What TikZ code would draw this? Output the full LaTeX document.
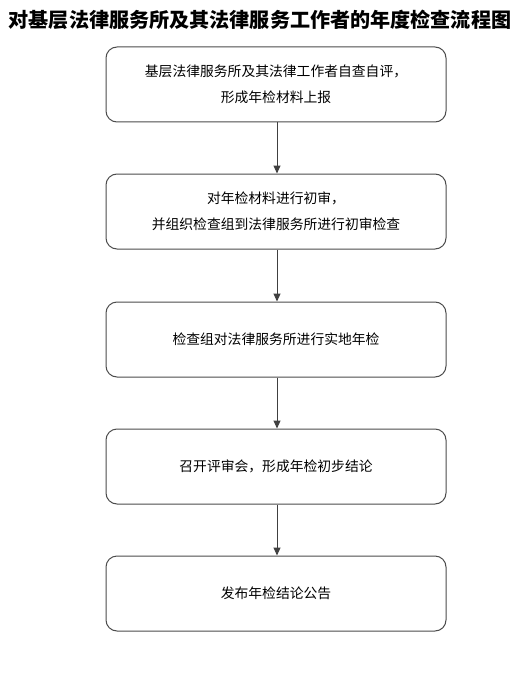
\documentclass[tikz,border=0pt]{standalone}
\usepackage{fontspec}
\setmainfont{Noto Sans CJK SC}
\usetikzlibrary{arrows.meta}
\begin{document}
\begin{tikzpicture}[x=1pt,y=-1pt,
  stepbox/.style={draw=black!70,line width=1pt,rounded corners=11pt,minimum width=340pt,minimum height=75pt,inner sep=0pt,align=center,font=\fontsize{13.8}{26}\selectfont},
  conn/.style={draw=black!75,line width=1pt,-{Triangle[length=8pt,width=7pt]}}]
\useasboundingbox[fill=white] (0,0) rectangle (522,698);
\node[inner sep=0pt,font=\fontsize{20.1}{24}\selectfont\bfseries] (title) at (260,20) {对基层法律服务所及其法律服务工作者的年度检查流程图};
\node[stepbox] (b1) at (276,84.5) {基层法律服务所及其法律工作者自查自评，\\形成年检材料上报};
\node[stepbox] (b2) at (276,211.5) {对年检材料进行初审，\\并组织检查组到法律服务所进行初审检查};
\node[stepbox] (b3) at (276,339.5) {检查组对法律服务所进行实地年检};
\node[stepbox] (b4) at (276,466.5) {召开评审会，形成年检初步结论};
\node[stepbox] (b5) at (276,593.5) {发布年检结论公告};
\draw[conn] (b1.south -| 277,0) -- (b2.north -| 277,0);
\draw[conn] (b2.south -| 277,0) -- (b3.north -| 277,0);
\draw[conn] (b3.south -| 277,0) -- (b4.north -| 277,0);
\draw[conn] (b4.south -| 277,0) -- (b5.north -| 277,0);
\end{tikzpicture}
\end{document}
